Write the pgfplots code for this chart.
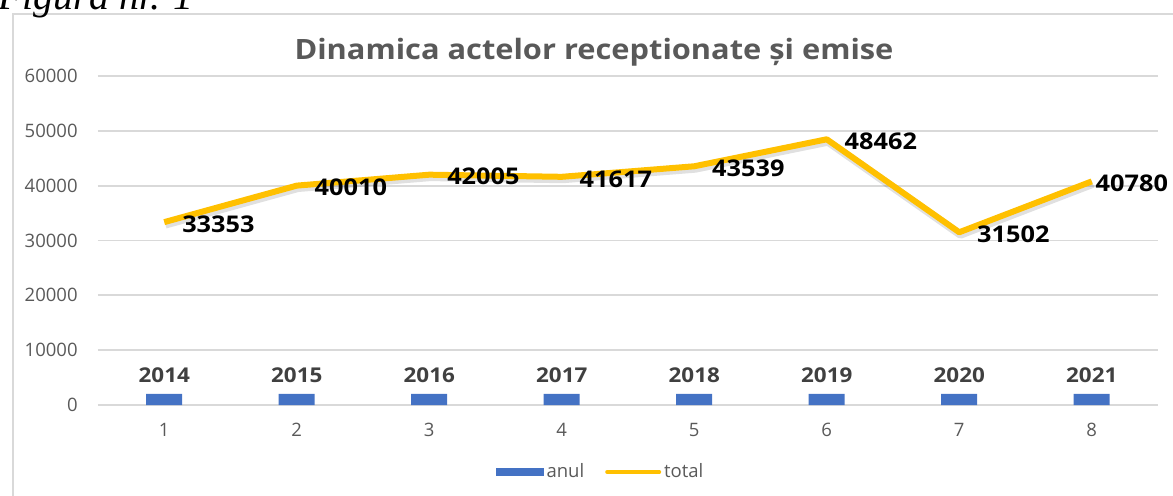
\documentclass[border=0pt]{standalone}
\usepackage{fontspec}
\setmainfont{Open Sans}
\newfontfamily\wide[FakeStretch=1.1]{Open Sans}
\newfontfamily\serifit{Liberation Serif}
\usepackage{pgfplots}
\pgfplotsset{compat=1.18}
\definecolor{gridgray}{HTML}{D9D9D9}
\definecolor{txtgray}{HTML}{595959}
\definecolor{lbldark}{HTML}{404040}
\definecolor{barblue}{HTML}{4472C4}
\definecolor{lineyellow}{HTML}{FFC000}
\pgfplotstableread{
x y dx
1 33353 7.5
2 40010 7.5
3 42005 7.5
4 41617 7.5
5 43539 7.5
6 48462 7.5
7 31502 7.5
8 40780 0.5
}\totaldata
\begin{document}
\begin{tikzpicture}
\useasboundingbox (0pt,0pt) rectangle (586.5pt,247.5pt);
\draw[gridgray, line width=1pt] (6.5pt,-5pt) -- (6.5pt,240.5pt) -- (595pt,240.5pt);
\node[font=\serifit\itshape\fontsize{20}{22}\selectfont, anchor=base west, inner sep=0pt] at (-1pt,243pt) {Figura nr. 1};
\node[font=\wide\bfseries\fontsize{14}{16}\selectfont, text=txtgray] at (297pt,221.5pt) {Dinamica actelor receptionate și emise};
\begin{axis}[
  at={(49pt,45pt)}, anchor=south west,
  scale only axis, width=530pt, height=164.5pt,
  xmin=0.5, xmax=8.5, ymin=0, ymax=60000,
  axis line style={draw=none},
  tick style={draw=none},
  ymajorgrids,
  grid style={gridgray, line width=0.9pt},
  xtick={1,2,3,4,5,6,7,8},
  ytick={0,10000,20000,30000,40000,50000,60000},
  scaled y ticks=false,
  /pgf/number format/assume math mode=true,
  /pgf/number format/1000 sep={},
  yticklabel style={font=\fontsize{9.25}{10}\selectfont, text=txtgray, inner sep=0pt, xshift=-10pt},
  xticklabel style={font=\fontsize{9.25}{10}\selectfont, text=txtgray, inner sep=0pt, yshift=-9pt},
  legend style={at={(0.4745,-0.2036)}, anchor=center, draw=none, fill=none,
    legend columns=2, font=\fontsize{9.25}{10}\selectfont, text=txtgray,
    /tikz/every even column/.append style={column sep=9pt},
    nodes={inner sep=1.5pt}},
  clip=false,
]
\addplot[ybar, bar width=18pt, fill=barblue, draw=none,
  nodes near coords,
  nodes near coords style={font=\wide\bfseries\fontsize{10.2}{12}\selectfont, text=lbldark, anchor=center, inner sep=0pt, yshift=9.5pt},
  legend image code/.code={\fill[barblue] (0pt,-2pt) rectangle (24pt,2pt);}
] coordinates {(1,2014) (2,2015) (3,2016) (4,2017) (5,2018) (6,2019) (7,2020) (8,2021)};
\addlegendentry{anul}
\addplot[black, opacity=0.12, line width=4pt, line join=round, mark=none, forget plot,
  transform canvas={xshift=0.6pt, yshift=-1.2pt}] table[x=x, y=y] {\totaldata};
\addplot[lineyellow, line width=3pt, line join=round, mark=none,
  visualization depends on={\thisrow{dx} \as \dxv},
  nodes near coords,
  nodes near coords style={font=\wide\bfseries\fontsize{11.5}{13}\selectfont, text=black, anchor=west, inner sep=0pt, xshift=\dxv pt, yshift=-1pt},
  legend image code/.code={\draw[lineyellow, line width=2pt, line cap=round] (0pt,0pt) -- (26pt,0pt);}
] table[x=x, y=y] {\totaldata};
\addlegendentry{total}
\end{axis}
\end{tikzpicture}
\end{document}
